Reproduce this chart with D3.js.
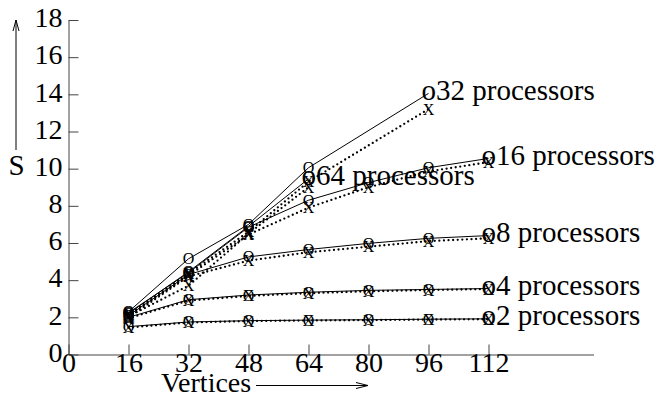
<!DOCTYPE html>
<html lang="en">
<head>
<meta charset="UTF-8">
<title>speedup</title>
<style>
	body { margin: 0; background: #fff; }
	svg text { font-family: "Times New Roman", Times, "Liberation Serif", "DejaVu Serif", serif; fill: #000; }
</style>
</head>
<body>
<svg id="cont" width="657" height="397"></svg>
<script src="https://cdn.jsdelivr.net/npm/d3@7"></script>
<script>
	// data
	const xTicks = [0, 16, 32, 48, 64, 80, 96, 112];
	const yTicks = [0, 2, 4, 6, 8, 10, 12, 14, 16, 18];

	const vertsAll = [16, 32, 48, 64, 80, 96, 112];
	const verts32 = [16, 32, 48, 64, 96];
	const verts64 = [16, 32, 48, 64];

	const p2o = [1.5, 1.75, 1.82, 1.85, 1.87, 1.9, 1.92];
	const p2x = [1.45, 1.72, 1.8, 1.83, 1.85, 1.88, 1.9];
	const p4o = [2.0, 2.95, 3.2, 3.35, 3.45, 3.5, 3.55];
	const p4x = [1.95, 2.9, 3.15, 3.3, 3.4, 3.47, 3.52];
	const p8o = [2.1, 4.3, 5.25, 5.65, 5.98, 6.25, 6.4];
	const p8x = [2.0, 4.2, 5.05, 5.5, 5.8, 6.1, 6.25];
	const p16o = [2.25, 4.4, 6.85, 8.3, 9.25, 10.05, 10.55];
	const p16x = [2.1, 4.25, 6.45, 7.9, 9.0, 9.85, 10.35];
	const p32o = [2.3, 5.15, 7.0, 10.05, 14.05];
	const p32x = [2.15, 4.35, 6.6, 9.3, 13.2];
	const p64o = [2.2, 4.45, 6.9, 9.45];
	const p64x = [2.05, 3.7, 6.5, 9.0];

	const names = ["2 processors", "4 processors", "8 processors", "16 processors", "32 processors", "64 processors"];

	let series = [
		{name: names[0], xs: vertsAll, o: p2o, x: p2x},
		{name: names[1], xs: vertsAll, o: p4o, x: p4x},
		{name: names[2], xs: vertsAll, o: p8o, x: p8x},
		{name: names[3], xs: vertsAll, o: p16o, x: p16x},
		{name: names[4], xs: verts32, o: p32o, x: p32x},
		{name: names[5], xs: verts64, o: p64o, x: p64x}
	];

	let svg = d3.select("#cont");

	let xscale = d3.scaleLinear().domain([0, 140]).range([68.5, 593.5]);
	let yscale = d3.scaleLinear().domain([0, 18]).range([354.5, 20]);

	// axes, ticks pointing inward
	let xaxis = d3.axisBottom(xscale)
		.tickValues(xTicks)
		.tickSizeInner(-10)
		.tickSizeOuter(0)
		.tickPadding(0);
	let gx = svg.append("g")
		.attr("transform", "translate(0," + yscale(0) + ")")
		.call(xaxis);
	gx.selectAll("text").attr("dy", "0.64em");

	let yaxis = d3.axisLeft(yscale)
		.tickValues(yTicks)
		.tickSizeInner(-10)
		.tickSizeOuter(0)
		.tickPadding(6);
	let gy = svg.append("g")
		.attr("transform", "translate(" + xscale(0) + ",0)")
		.call(yaxis);
	gy.selectAll("text").attr("dy", "0.24em");

	svg.selectAll("g").attr("font-family", null);
	svg.selectAll(".tick text")
		.style("font-size", "28px")
		.attr("fill", "#000");
	svg.selectAll(".domain, .tick line").attr("stroke", "#444");

	// axis titles with arrows
	svg.append("text").attr("x", 16.5).attr("y", 175)
		.attr("text-anchor", "middle").style("font-size", "29px").text("S");
	svg.append("path").attr("d", "M16,150V20M13,31L16,20L19,31")
		.attr("fill", "none").attr("stroke", "#000");
	svg.append("text").attr("x", 161).attr("y", 392)
		.style("font-size", "28px").text("Vertices");
	svg.append("path").attr("d", "M256,385.5H368M356,382.5L368,385.5L356,388.5")
		.attr("fill", "none").attr("stroke", "#000");

	let solid = d3.line().x(d => xscale(d[0])).y(d => yscale(d[1]));

	series.forEach(s => {
		let opts = s.xs.map((v, i) => [v, s.o[i]]);
		let xpts = s.xs.map((v, i) => [v, s.x[i]]);

		svg.append("path").datum(opts)
			.attr("d", solid)
			.attr("fill", "none")
			.attr("stroke", "#000")
			.attr("stroke-width", 1);

		svg.append("path").datum(xpts)
			.attr("d", solid)
			.attr("fill", "none")
			.attr("stroke", "#000")
			.attr("stroke-width", 2.3)
			.attr("stroke-linecap", "round")
			.attr("stroke-dasharray", "0,4.6");

		// O markers (the last one is the "o" of the label)
		svg.append("g").selectAll("text")
			.data(opts.slice(0, -1))
			.enter().append("text")
			.attr("x", d => xscale(d[0]))
			.attr("y", d => yscale(d[1]) + 5.5)
			.attr("text-anchor", "middle")
			.style("font-size", "16px")
			.text("O");

		svg.append("g").selectAll("text")
			.data(xpts)
			.enter().append("text")
			.attr("x", d => xscale(d[0]))
			.attr("y", d => yscale(d[1]) + 5.5)
			.attr("text-anchor", "middle")
			.style("font-size", "16px")
			.text("X");

		let last = opts[opts.length - 1];
		svg.append("text")
			.attr("x", xscale(last[0]) - 7)
			.attr("y", yscale(last[1]) + 6.5)
			.style("font-size", "29px")
			.text("o" + s.name);
	});
</script>
</body>
</html>
